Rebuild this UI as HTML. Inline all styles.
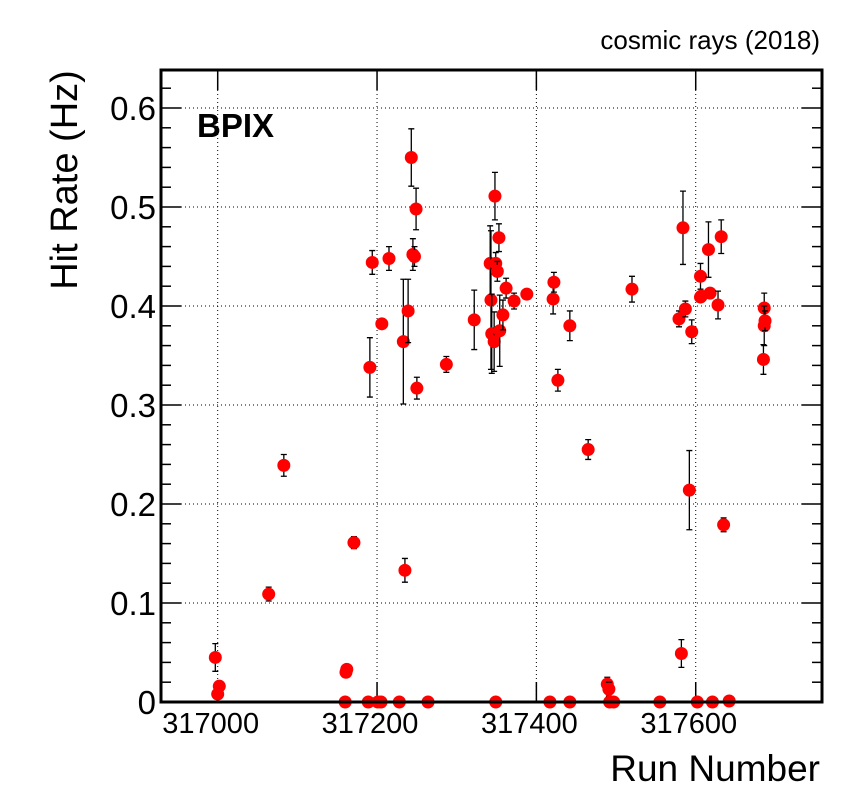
<!DOCTYPE html>
<html><head><meta charset="utf-8"><style>
body{margin:0;background:#fff;}
svg{display:block;font-family:"Liberation Sans",sans-serif;}
</style></head><body>
<svg id="c" width="854" height="807" viewBox="0 0 854 807">
<rect width="854" height="807" fill="#fff"/>
<g id="grid"></g><g id="ticks"></g><g id="marks"></g>
<rect x="161" y="70" width="661" height="632" fill="none" stroke="#000" stroke-width="3"/>
<text x="820" y="49" font-size="26" text-anchor="end">cosmic rays (2018)</text>
<text x="197" y="137" font-size="33" font-weight="bold">BPIX</text>
<text x="820" y="781" font-size="37" text-anchor="end">Run Number</text>
<text transform="translate(77,180) rotate(-90)" font-size="38" text-anchor="middle">Hit Rate (Hz)</text>
</svg>
<script>
const runs=[316997,317002,317000,317064,317083,317161,317162,317171,317160,317189,317191,317194,317201,317205,317206,317215,317228,317233,317235,317239,317243,317245,317247,317249,317250,317264,317287,317322,317342,317343,317344,317347,317348,317349,317351,317349,317353,317354,317358,317362,317372,317388,317417,317421,317422,317427,317442,317442,317465,317489,317491,317492,317497,317520,317555,317579,317582,317584,317587,317592,317595,317602,317606,317606,317607,317616,317618,317621,317628,317632,317635,317642,317685,317686,317686,317687];
const rates=[0.045,0.016,0.008,0.109,0.239,0.030,0.033,0.161,0,0,0.338,0.444,0,0,0.382,0.448,0,0.364,0.133,0.395,0.550,0.452,0.450,0.498,0.317,0,0.341,0.386,0.443,0.406,0.372,0.364,0.511,0.443,0.435,0,0.469,0.375,0.391,0.418,0.405,0.412,0,0.407,0.424,0.325,0,0.380,0.255,0.018,0.013,0,0,0.417,0,0.387,0.049,0.479,0.397,0.214,0.374,0,0.430,0.409,0.410,0.457,0.413,0,0.401,0.470,0.179,0.001,0.346,0.398,0.380,0.385];
const errs=[0.014,0.005,0.004,0.007,0.011,0.005,0.004,0.006,0,0,0.03,0.012,0,0,0.005,0.012,0,0.063,0.012,0.032,0.029,0.016,0.01,0.021,0.011,0,0.008,0.03,0.038,0.07,0.04,0.03,0.024,0.011,0.01,0,0.014,0.036,0.015,0.01,0.008,0.004,0,0.015,0.01,0.011,0,0.015,0.01,0.007,0.007,0,0,0.013,0,0.008,0.014,0.037,0.008,0.04,0.012,0,0.013,0.005,0.005,0.028,0.005,0,0.014,0.017,0.007,0.002,0.015,0.015,0.02,0.01];
const xTicks=[317000,317200,317400,317600];
const xTickLabels=["317000","317200","317400","317600"];
const yTicks=[0,0.1,0.2,0.3,0.4,0.5,0.6];
const yTickLabels=["0","0.1","0.2","0.3","0.4","0.5","0.6"];
const X=v=>217.7+(v-317000)*0.7967;
const Y=v=>702-v*990;
const NS="http://www.w3.org/2000/svg";
function mk(p,t,a){const e=document.createElementNS(NS,t);for(const k in a)e.setAttribute(k,a[k]);p.appendChild(e);return e;}
const grid=document.getElementById('grid'),ticks=document.getElementById('ticks'),marks=document.getElementById('marks'),svg=document.getElementById('c');
xTicks.forEach((t,i)=>{
 const x=X(t);
 let g=mk(grid,'line',{x1:x,x2:x,y1:70,y2:702,stroke:'#000','stroke-width':1,'stroke-dasharray':'1 3'});
 
 
 mk(ticks,'line',{x1:x,x2:x,y1:702,y2:682,stroke:'#000','stroke-width':1.5});
 mk(ticks,'line',{x1:x,x2:x,y1:70,y2:90,stroke:'#000','stroke-width':1.5});
 let l=mk(svg,'text',{x:x-7,y:733,'font-size':29,'text-anchor':'middle'});l.textContent=xTickLabels[i];
 
 
});
yTicks.forEach((t,i)=>{
 const y=Y(t);
 if(t>0){let g=mk(grid,'line',{x1:161,x2:822,y1:y,y2:y,stroke:'#000','stroke-width':1,'stroke-dasharray':'1 3'});
 
 }
 let l=mk(svg,'text',{x:156,y:y+12,'font-size':33,'text-anchor':'end'});l.textContent=yTickLabels[i];
 
 
});
for(let k=0;k<=31;k++){const v=k*0.02;const y=Y(v);if(y<72)break;const len=(k%5==0)?20:10;
 mk(ticks,'line',{x1:161,x2:161+len,y1:y,y2:y,stroke:'#000','stroke-width':1.5});
 mk(ticks,'line',{x1:822-len,x2:822,y1:y,y2:y,stroke:'#000','stroke-width':1.5});}
runs.forEach((r,i)=>{
 const x=X(r),y=Y(rates[i]),e=errs[i]*990;
 if(e>4){
  const a=mk(marks,'path',{d:`M${x},${y-e}V${y+e}M${x-3},${y-e}H${x+3}M${x-3},${y+e}H${x+3}`,stroke:'#000','stroke-width':1.3,fill:'none'});
  
  
 }
 const c=mk(marks,'circle',{cx:x,cy:y,r:6.5,fill:'#f00'});
 
 
});
</script>
</body></html>
